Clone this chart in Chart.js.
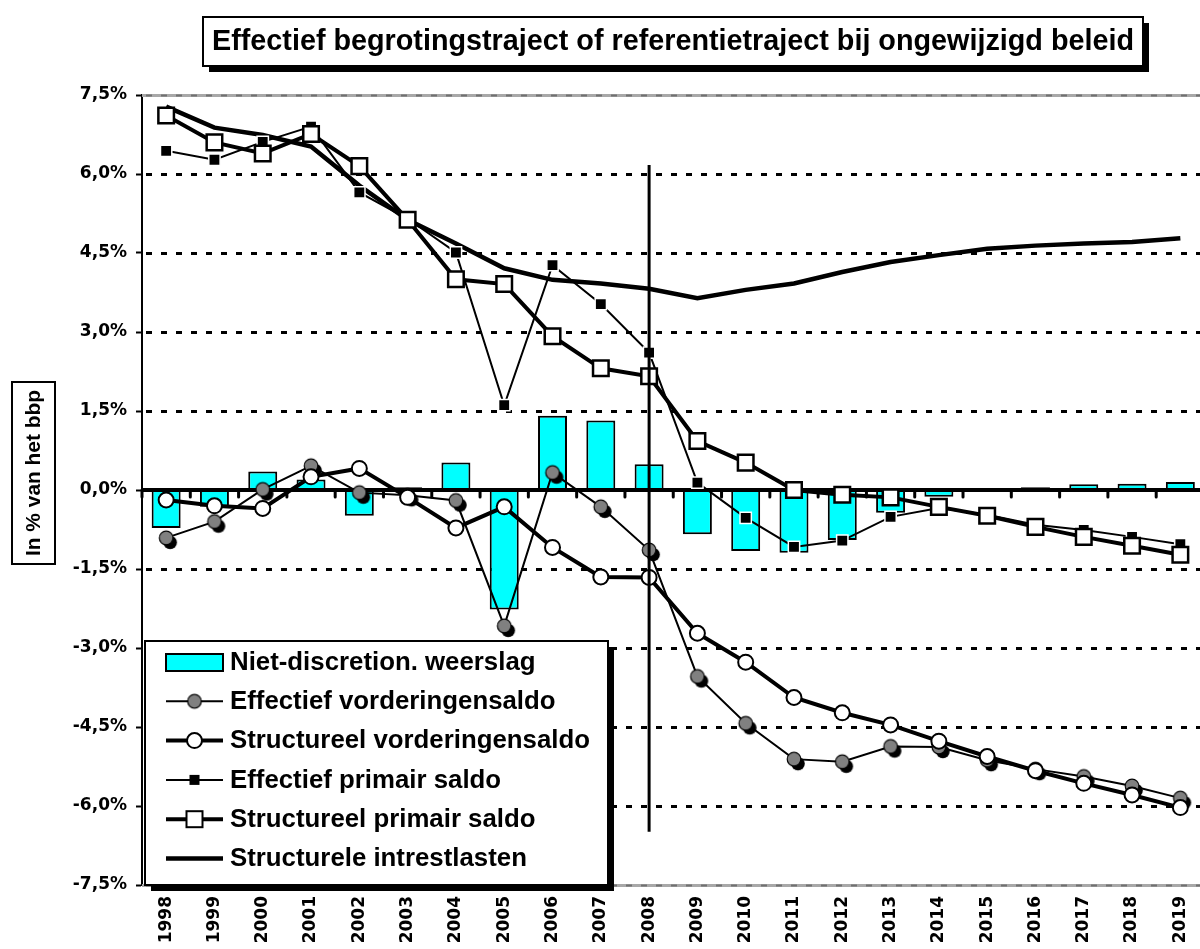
<!DOCTYPE html>
<html lang="nl">
<head>
<meta charset="UTF-8">
<title>Effectief begrotingstraject of referentietraject bij ongewijzigd beleid</title>
<script src="https://cdn.jsdelivr.net/npm/chart.js@4"></script>
<style>
  html, body { margin: 0; padding: 0; background: #fff; overflow: hidden; }
  #wrap { width: 1218px; height: 949px; }
</style>
</head>
<body>
<div id="wrap"><canvas id="chart" width="1218" height="949"></canvas></div>
<script>
// jaren en reeksen (in % van het bbp)
const years = ['1998','1999','2000','2001','2002','2003','2004','2005','2006','2007','2008',
               '2009','2010','2011','2012','2013','2014','2015','2016','2017','2018','2019'];
const weerslag = [-0.72,-0.32,0.35,0.20,-0.49,0.05,0.52,-2.27,1.41,1.32,0.49,
                  -0.84,-1.16,-1.19,-0.95,-0.43,-0.13,0.00,0.05,0.11,0.12,0.15];
const effVord = [-0.91,-0.60,0.01,0.46,-0.05,-0.10,-0.20,-2.58,0.33,-0.32,-1.14,
                 -3.54,-4.43,-5.11,-5.16,-4.87,-4.88,-5.13,-5.30,-5.44,-5.62,-5.85];
const strVord = [-0.19,-0.30,-0.35,0.25,0.41,-0.14,-0.72,-0.32,-1.09,-1.65,-1.66,
                 -2.72,-3.27,-3.94,-4.23,-4.46,-4.77,-5.06,-5.33,-5.57,-5.79,-6.03];
const effPrim = [6.44,6.27,6.61,6.90,5.65,5.15,4.51,1.61,4.27,3.53,2.61,
                 0.14,-0.53,-1.08,-0.96,-0.51,-0.34,-0.47,-0.66,-0.76,-0.89,-1.03];
const strPrim = [7.11,6.60,6.39,6.76,6.15,5.13,4.00,3.91,2.92,2.31,2.16,
                 0.93,0.52,0.00,-0.09,-0.14,-0.32,-0.49,-0.70,-0.89,-1.06,-1.23];
const intrest = [7.28,6.88,6.74,6.52,5.78,5.13,4.68,4.21,3.99,3.92,3.82,
                 3.64,3.80,3.92,4.14,4.33,4.46,4.58,4.64,4.68,4.71,4.78];
const yTicks = { min: -7.5, max: 7.5, step: 1.5 };
const markerYear = '2008';
const markerRange = [6.17, -6.49];

const titleText = 'Effectief begrotingstraject of referentietraject bij ongewijzigd beleid';
const yTitleText = 'In % van het bbp';

// grijze bol met zwarte schaduw
function grayDot(shadow) {
  const c = document.createElement('canvas');
  c.width = 26; c.height = 26;
  const g = c.getContext('2d');
  if (shadow) {
    g.fillStyle = '#000';
    g.beginPath(); g.arc(17, 17.5, 6.8, 0, Math.PI * 2); g.fill();
  }
  g.fillStyle = '#808080'; g.strokeStyle = '#000'; g.lineWidth = 1.2;
  g.beginPath(); g.arc(13, 13, 6.8, 0, Math.PI * 2); g.fill(); g.stroke();
  return c;
}

function fitText(ctx, text, x, y, width) {
  const w = ctx.measureText(text).width;
  ctx.save();
  ctx.translate(x, y);
  ctx.scale(width / w, 1);
  ctx.fillText(text, 0, 0);
  ctx.restore();
}

const decor = {
  id: 'decor',
  beforeDatasetsDraw(chart) {
    const { ctx, chartArea: a, scales: { y } } = chart;
    y.ticks.forEach(t => {
      if (Math.abs(t.value) < 1e-9) return;
      const py = Math.round(y.getPixelForValue(t.value)) + 0.5;
      ctx.save();
      if (Math.abs(t.value) > 7.4) {
        ctx.strokeStyle = '#a8a8a8'; ctx.lineWidth = 3;
        ctx.beginPath(); ctx.moveTo(a.left, py); ctx.lineTo(a.right, py); ctx.stroke();
        ctx.strokeStyle = '#707070'; ctx.lineWidth = 2; ctx.setLineDash([6, 9]);
      } else {
        ctx.strokeStyle = '#000'; ctx.lineWidth = 3; ctx.setLineDash([6, 9]);
      }
      ctx.beginPath(); ctx.moveTo(a.left + 4, py); ctx.lineTo(a.right, py); ctx.stroke();
      ctx.restore();
    });
  },
  afterDatasetDraw(chart, args) {
    if (args.index !== 0) return;
    // nullijn met streepjes
    const { ctx, chartArea: a, scales: { y } } = chart;
    const y0 = y.getPixelForValue(0);
    ctx.save();
    ctx.strokeStyle = '#000';
    ctx.lineWidth = 4;
    ctx.beginPath(); ctx.moveTo(a.left, y0); ctx.lineTo(a.right, y0); ctx.stroke();
    ctx.lineWidth = 3; ctx.lineCap = 'round';
    const step = (a.right - a.left) / years.length;
    for (let i = 0; i <= years.length; i++) {
      const px = a.left + i * step;
      ctx.beginPath(); ctx.moveTo(px, y0); ctx.lineTo(px, y0 + 7); ctx.stroke();
    }
    ctx.restore();
  },
  afterDatasetsDraw(chart) {
    const { ctx, scales: { x, y } } = chart;
    const px = x.getPixelForValue(years.indexOf(markerYear));
    ctx.save();
    ctx.strokeStyle = '#000'; ctx.lineWidth = 3;
    ctx.beginPath();
    ctx.moveTo(px, y.getPixelForValue(markerRange[0]));
    ctx.lineTo(px, y.getPixelForValue(markerRange[1]));
    ctx.stroke();
    ctx.restore();
  },
  afterDraw(chart) {
    const { ctx } = chart;
    ctx.save();
    // titel
    ctx.fillStyle = '#000';
    ctx.fillRect(209, 23, 940, 49);
    ctx.fillStyle = '#fff';
    ctx.fillRect(203, 17, 940, 49);
    ctx.strokeStyle = '#000'; ctx.lineWidth = 2;
    ctx.strokeRect(203, 17, 940, 49);
    ctx.fillStyle = '#000';
    ctx.font = 'bold 30px "Liberation Sans", Arial, sans-serif';
    ctx.textBaseline = 'middle';
    fitText(ctx, titleText, 212, 42, 922);

    // as-titel
    ctx.fillStyle = '#fff';
    ctx.fillRect(12, 382, 43, 182);
    ctx.strokeRect(12, 382, 43, 182);
    ctx.fillStyle = '#000';
    ctx.font = 'bold 21px "Liberation Sans", Arial, sans-serif';
    ctx.save();
    ctx.translate(34, 556);
    ctx.rotate(-Math.PI / 2);
    fitText(ctx, yTitleText, 0, 0, 166);
    ctx.restore();

    // legende
    const lx = 145, ly = 641, lw = 463, lh = 244;
    ctx.fillStyle = '#000';
    ctx.fillRect(lx + 6, ly + 6, lw, lh);
    ctx.fillStyle = '#fff';
    ctx.fillRect(lx, ly, lw, lh);
    ctx.strokeStyle = '#000'; ctx.lineWidth = 2;
    ctx.strokeRect(lx, ly, lw, lh);

    ctx.font = 'bold 25px "Liberation Sans", Arial, sans-serif';
    const sx = 360 / ctx.measureText('Structureel vorderingensaldo').width;
    chart.data.datasets.forEach((ds, i) => {
      const cy = 662 + i * 39.3;
      const x1 = 166, x2 = 223, mx = 194.5;
      ctx.save();
      ctx.strokeStyle = '#000';
      if (ds.type === 'bar') {
        ctx.fillStyle = ds.backgroundColor;
        ctx.lineWidth = 2;
        ctx.fillRect(x1, cy - 8, x2 - x1, 17);
        ctx.strokeRect(x1, cy - 8, x2 - x1, 17);
      } else {
        ctx.lineWidth = ds.borderWidth;
        ctx.beginPath(); ctx.moveTo(x1, cy); ctx.lineTo(x2, cy); ctx.stroke();
        const m = ds.legendMarker;
        if (m === 'grayDot') {
          ctx.drawImage(grayDot(false), mx - 13, cy - 13);
        } else if (m === 'circle') {
          ctx.fillStyle = '#fff'; ctx.lineWidth = 2;
          ctx.beginPath(); ctx.arc(mx, cy, 7.5, 0, Math.PI * 2); ctx.fill(); ctx.stroke();
        } else if (m === 'blackSq') {
          ctx.fillStyle = '#000';
          ctx.fillRect(mx - 5, cy - 5, 10, 10);
        } else if (m === 'whiteSq') {
          ctx.fillStyle = '#fff'; ctx.lineWidth = 2;
          ctx.fillRect(mx - 8, cy - 8, 16, 16);
          ctx.strokeRect(mx - 8, cy - 8, 16, 16);
        }
      }
      ctx.restore();
      ctx.save();
      ctx.fillStyle = '#000';
      ctx.textBaseline = 'middle';
      ctx.translate(230, cy + 1);
      ctx.scale(sx, 1);
      ctx.fillText(ds.label, 0, 0);
      ctx.restore();
    });
    ctx.restore();
  }
};

const tickFont = { family: '"DejaVu Sans", sans-serif', size: 17, weight: 'bold' };

new Chart(document.getElementById('chart'), {
  type: 'bar',
  data: {
    labels: years,
    datasets: [
      {
        type: 'bar',
        label: 'Niet-discretion. weerslag',
        data: weerslag,
        backgroundColor: '#00ffff',
        borderColor: '#000',
        borderWidth: 2,
        categoryPercentage: 1,
        barPercentage: 0.6,
        order: 10
      },
      {
        type: 'line',
        label: 'Effectief vorderingensaldo',
        data: effVord,
        borderColor: '#000',
        borderWidth: 2,
        pointStyle: grayDot(true),
        legendMarker: 'grayDot',
        order: 5
      },
      {
        type: 'line',
        label: 'Structureel vorderingensaldo',
        data: strVord,
        borderColor: '#000',
        borderWidth: 4,
        pointStyle: 'circle',
        pointRadius: 7.5,
        pointBackgroundColor: '#fff',
        pointBorderColor: '#000',
        pointBorderWidth: 2,
        legendMarker: 'circle',
        order: 2
      },
      {
        type: 'line',
        label: 'Effectief primair saldo',
        data: effPrim,
        borderColor: '#000',
        borderWidth: 2,
        pointStyle: 'rect',
        pointRadius: 8,
        pointBackgroundColor: '#000',
        pointBorderColor: '#fff',
        pointBorderWidth: 1.5,
        legendMarker: 'blackSq',
        order: 4
      },
      {
        type: 'line',
        label: 'Structureel primair saldo',
        data: strPrim,
        borderColor: '#000',
        borderWidth: 4,
        pointStyle: 'rect',
        pointRadius: 11,
        pointBackgroundColor: '#fff',
        pointBorderColor: '#000',
        pointBorderWidth: 2.5,
        legendMarker: 'whiteSq',
        order: 1
      },
      {
        type: 'line',
        label: 'Structurele intrestlasten',
        data: intrest,
        borderColor: '#000',
        borderWidth: 4.5,
        pointRadius: 0,
        legendMarker: 'none',
        order: 6
      }
    ]
  },
  options: {
    responsive: false,
    animation: false,
    events: [],
    layout: { padding: { top: 95, left: 0, right: 0, bottom: 0 } },
    plugins: { legend: { display: false }, tooltip: { enabled: false }, title: { display: false } },
    scales: {
      x: {
        grid: { display: false, drawTicks: false },
        border: { display: false },
        ticks: { font: tickFont, color: '#000', minRotation: 90, maxRotation: 90, padding: 11, autoSkip: false },
        afterFit(scale) { scale.height = 64; }
      },
      y: {
        min: yTicks.min,
        max: yTicks.max,
        grid: { drawOnChartArea: false, drawTicks: true, tickLength: 6, tickColor: '#000', tickWidth: 2 },
        border: { display: true, color: '#000', width: 2 },
        ticks: {
          stepSize: yTicks.step,
          font: tickFont,
          color: '#000',
          padding: 9,
          callback: v => (Math.abs(v) < 1e-9 ? 0 : v).toFixed(1).replace('.', ',') + '%'
        },
        afterFit(scale) { scale.width = 142; }
      }
    }
  },
  plugins: [decor]
});
</script>
</body>
</html>
